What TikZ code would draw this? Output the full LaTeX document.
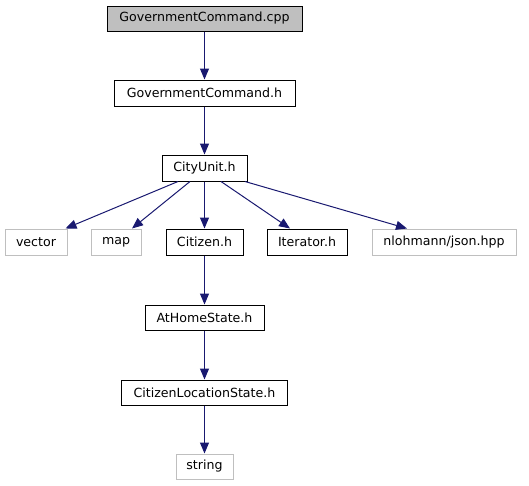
\documentclass[tikz,border=0pt]{standalone}
\usepackage{fontspec}
\setmainfont{DejaVu Sans}
\usetikzlibrary{arrows.meta,calc}
\definecolor{edgeblue}{HTML}{191970}
\definecolor{grayb}{HTML}{BFBFBF}
\tikzset{
  file/.style={draw=black, line width=1pt, fill=white, minimum height=26pt, inner sep=0pt, font=\fontsize{12.6}{14}\selectfont},
  ext/.style={file, draw=grayb},
  main/.style={file, fill=grayb},
  dep/.style={draw=edgeblue, line width=1pt, -{Triangle[length=11pt,width=9pt]}, shorten >=0pt},
}
\begin{document}
\begin{tikzpicture}[x=1pt,y=-1pt]
\useasboundingbox (0,0) rectangle (529,485);
\node[main, minimum width=195pt, minimum height=25pt] (cpp) at (204.5,18.5) {GovernmentCommand.cpp};
\node[file, minimum width=181pt] (gch) at (204.5,93) {GovernmentCommand.h};
\node[file, minimum width=85pt] (city) at (204.5,168) {CityUnit.h};
\node[ext, minimum width=62pt] (vector) at (36,242) {vector};
\node[ext, minimum width=50pt] (map) at (116,242) {map};
\node[file, minimum width=77pt] (citizen) at (204.5,242) {Citizen.h};
\node[file, minimum width=80pt] (iter) at (307,242) {Iterator.h};
\node[ext, minimum width=144pt] (json) at (444,242) {nlohmann/json.hpp};
\node[file, minimum width=119pt, minimum height=25pt] (home) at (204.5,317.5) {AtHomeState.h};
\node[file, minimum width=166pt, minimum height=25pt] (cls) at (204.5,392.5) {CitizenLocationState.h};
\node[ext, minimum width=57pt, minimum height=25pt] (string) at (204.5,466.5) {string};
\draw[dep] (cpp) -- (gch);
\draw[dep] (gch) -- (city);
\draw[dep] ($(city.south)+(-26.5,0)$) -- ($(vector.north east)+(-2,0)$);
\draw[dep] ($(city.south)+(-14.5,0)$) -- ($(map.north)+(16,0)$);
\draw[dep] (city) -- (citizen);
\draw[dep] ($(city.south)+(16.5,0)$) -- ($(iter.north)+(-17,0)$);
\draw[dep] ($(city.south)+(40.5,0)$) -- ($(json.north)+(-37,0)$);
\draw[dep] (citizen) -- (home);
\draw[dep] (home) -- (cls);
\draw[dep] (cls) -- (string);
\end{tikzpicture}
\end{document}
